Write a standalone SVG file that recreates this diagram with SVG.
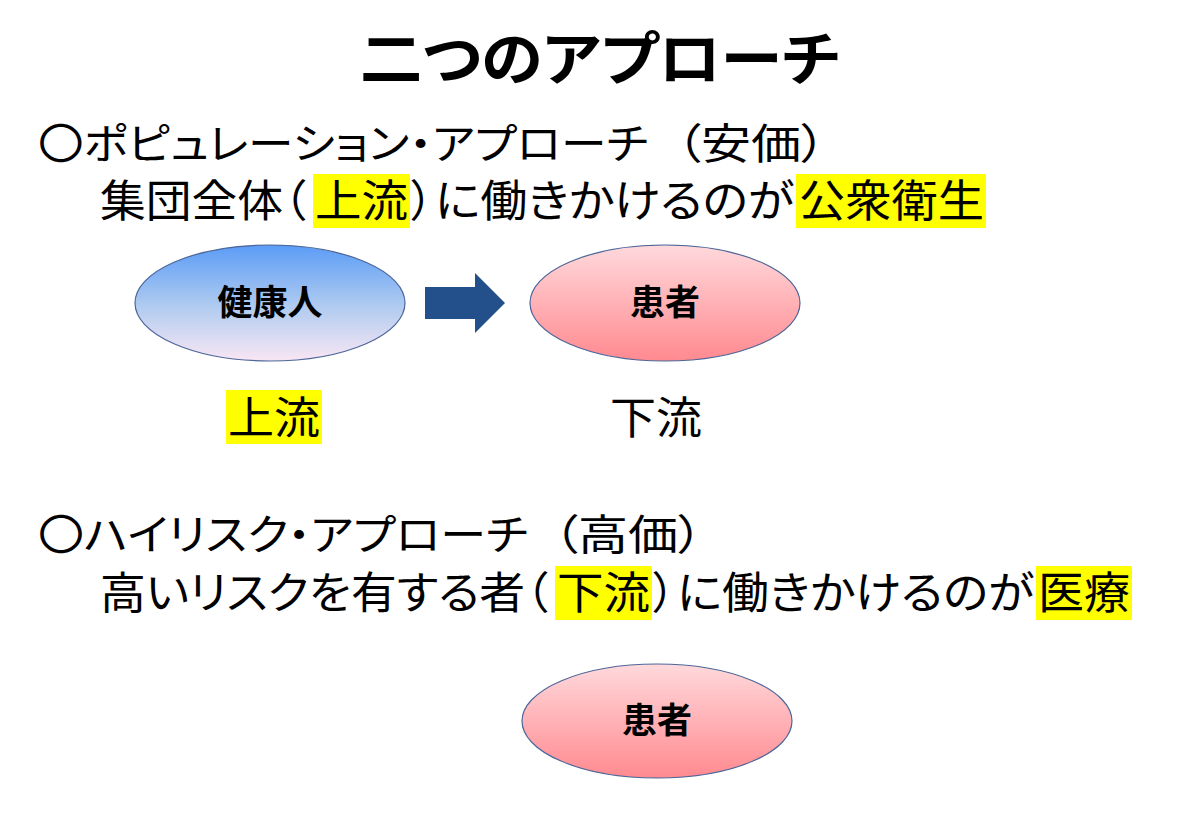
<svg xmlns="http://www.w3.org/2000/svg" width="1200" height="831" viewBox="0 0 1200 831">
<defs>
<linearGradient id="gBlue" x1="0" y1="0" x2="0" y2="1">
<stop offset="0" stop-color="#5b9cf6"/>
<stop offset="0.55" stop-color="#b3cdf0"/>
<stop offset="1" stop-color="#f9e6f4"/>
</linearGradient>
<linearGradient id="gPink" x1="0" y1="0" x2="0" y2="1">
<stop offset="0" stop-color="#ffd9dc"/>
<stop offset="1" stop-color="#ff8a90"/>
</linearGradient>
<style>
.t{font-family:"Noto Sans CJK JP","Noto Sans CJK SC",sans-serif;fill:#000;font-feature-settings:"palt";}
.title{font-size:58px;font-weight:bold;}
.h{font-size:42px;}
.b{font-size:44px;}
.n{font-size:35px;font-weight:bold;}
.hl{fill:#ffff00;}
.el{stroke:#4d6699;stroke-width:1.2;}
</style>
</defs>
<rect width="1200" height="831" fill="#fff"/>
<text class="t title" x="600" y="80" text-anchor="middle" textLength="480" lengthAdjust="spacingAndGlyphs">二つのアプローチ</text>

<g id="line1">
<text class="t h" x="38" y="159" textLength="610" lengthAdjust="spacingAndGlyphs">〇ポピュレーション・アプローチ</text>
<text class="t h" x="676" y="159" textLength="150" lengthAdjust="spacingAndGlyphs">（安価）</text>
</g>
<g id="line2">
<rect class="hl" x="313" y="174" width="97" height="54"/>
<rect class="hl" x="796" y="174" width="190" height="54"/>
<text class="t b" x="100" y="217" textLength="206" lengthAdjust="spacingAndGlyphs">集団全体（</text>
<text class="t b" x="315" y="217" textLength="93" lengthAdjust="spacingAndGlyphs">上流</text>
<text class="t b" x="411" y="217">）</text>
<text class="t b" x="435" y="217" textLength="359" lengthAdjust="spacingAndGlyphs">に働きかけるのが</text>
<text class="t b" x="799" y="217" textLength="185" lengthAdjust="spacingAndGlyphs">公衆衛生</text>
</g>

<g id="node-kenkoujin">
<ellipse class="el" cx="270" cy="303" rx="135" ry="58" fill="url(#gBlue)"/>
<text class="t n" x="270" y="315" text-anchor="middle">健康人</text>
</g>
<g id="connectors">
<polygon points="425,287 475,287 475,273 505,303 475,333 475,319 425,319" fill="#23508a"/>
</g>
<g id="node-kanja1">
<ellipse class="el" cx="665" cy="303" rx="135" ry="58" fill="url(#gPink)"/>
<text class="t n" x="665" y="315" text-anchor="middle">患者</text>
</g>

<g id="label-joryu">
<rect class="hl" x="226" y="390" width="96" height="54"/>
<text class="t b" x="228" y="434" textLength="92" lengthAdjust="spacingAndGlyphs">上流</text>
</g>
<g id="label-karyu">
<text class="t b" x="610" y="434" textLength="92" lengthAdjust="spacingAndGlyphs">下流</text>
</g>

<g id="line3">
<text class="t h" x="38" y="550" textLength="490" lengthAdjust="spacingAndGlyphs">〇ハイリスク・アプローチ</text>
<text class="t h" x="553" y="550" textLength="150" lengthAdjust="spacingAndGlyphs">（高価）</text>
</g>
<g id="line4">
<rect class="hl" x="555" y="566" width="97" height="54"/>
<rect class="hl" x="1036" y="566" width="96" height="54"/>
<text class="t b" x="100" y="609" textLength="448" lengthAdjust="spacingAndGlyphs">高いリスクを有する者（</text>
<text class="t b" x="557" y="609" textLength="93" lengthAdjust="spacingAndGlyphs">下流</text>
<text class="t b" x="653" y="609">）</text>
<text class="t b" x="677" y="609" textLength="357" lengthAdjust="spacingAndGlyphs">に働きかけるのが</text>
<text class="t b" x="1038" y="609" textLength="92" lengthAdjust="spacingAndGlyphs">医療</text>
</g>

<g id="node-kanja2">
<ellipse class="el" cx="657" cy="721" rx="135" ry="57" fill="url(#gPink)"/>
<text class="t n" x="657" y="733" text-anchor="middle">患者</text>
</g>
</svg>
